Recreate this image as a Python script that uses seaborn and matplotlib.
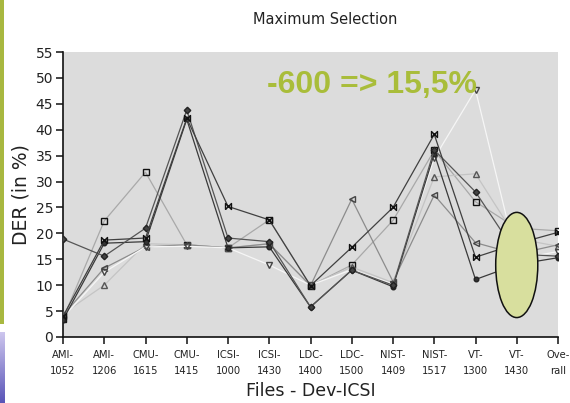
import numpy as np
import pandas as pd
import matplotlib
matplotlib.use("Agg")
import matplotlib.pyplot as plt
from matplotlib.patches import Ellipse, Rectangle
import seaborn as sns

# Audio files on the x axis
files = ["AMI-\n1052", "AMI-\n1206", "CMU-\n1615", "CMU-\n1415", "ICSI-\n1000",
         "ICSI-\n1430", "LDC-\n1400", "LDC-\n1500", "NIST-\n1409", "NIST-\n1517",
         "VT-\n1300", "VT-\n1430", "Ove-\nrall"]

# DER (%) per system run
der_square   = [3.5, 22.4, 31.8, 17.8, 17.2, 22.6, 9.9, 13.9, 22.5, 36.0, 26.1, 21.0, 20.5]
der_bowtie   = [4.0, 18.7, 19.1, 42.2, 25.2, 22.6, 9.9, 17.3, 25.0, 39.1, 15.4, 18.0, 20.2]
der_diamond  = [18.9, 15.6, 21.0, 43.8, 19.1, 18.4, 5.8, 12.9, 10.0, 36.1, 28.0, 16.0, 15.6]
der_circle   = [3.3, 18.1, 18.4, 42.0, 17.2, 17.4, 5.8, 12.9, 9.7, 35.4, 11.1, 14.0, 15.3]
der_left     = [4.2, 13.3, 17.4, 17.8, 17.2, 18.0, 9.9, 26.6, 10.7, 27.4, 18.2, 16.0, 17.8]
der_up       = [4.5, 10.0, 18.0, 17.8, 17.2, 18.0, 10.0, 13.5, 10.5, 30.9, 31.5, 19.0, 17.5]
der_down     = [3.8, 12.5, 17.4, 17.5, 17.2, 13.9, 10.0, 13.0, 10.2, 34.5, 47.7, 15.0, 16.5]

yticks = list(range(0, 60, 5))

bowtie = [(-1, -1), (1, 1), (1, -1), (-1, 1), (-1, -1)]

series = [
    ("square",  der_square,  "#a9a9a9", "s",    "none",    "#111111", 4.3),
    ("up",      der_up,      "#c4c4c4", "^",    "none",    "#555555", 3.8),
    ("left",    der_left,    "#8c8c8c", "<",    "none",    "#444444", 3.8),
    ("down",    der_down,    "#f6f6f6", "v",    "none",    "#444444", 3.8),
    ("circle",  der_circle,  "#3a3a3a", "o",    "#333333", "#222222", 3.3),
    ("diamond", der_diamond, "#555555", "D",    "#444444", "#222222", 3.3),
    ("bowtie",  der_bowtie,  "#404040", bowtie, "none",    "#111111", 4.3),
]

sns.set_theme(style="white")
plt.rcParams["font.family"] = ["DejaVu Sans"]

fig = plt.figure(figsize=(5.70, 4.03), dpi=100)
ax = fig.add_axes([63 / 570, 66 / 403, 495 / 570, 285 / 403])
ax.set_facecolor("#dcdcdc")

x = np.arange(len(files))
for name, vals, lc, mk, mfc, mec, ms in series:
    df = pd.DataFrame({"file": x, "der": vals})
    sns.lineplot(data=df, x="file", y="der", ax=ax, color=lc, lw=0.9,
                 marker=mk, markersize=ms, markerfacecolor=mfc,
                 markeredgecolor=mec, markeredgewidth=1.0, zorder=3)

# highlight over the VT-1430 column
ax.add_patch(Ellipse((11, 13.9), width=1.02, height=20.3, facecolor="#d8df9e",
                     edgecolor="#111111", lw=1.1, zorder=5))

ax.text(0.625, 0.884, "-600 => 15,5%", transform=ax.transAxes, color="#a9bd3a",
        fontsize=23, fontweight="bold", family="Liberation Sans",
        ha="center", va="center", zorder=6)

ax.set_xlim(0, 12)
ax.set_ylim(0, 55)
ax.set_xticks(x)
ax.set_xticklabels(files, fontsize=7.2, linespacing=1.75, color="#222222")
ax.set_yticks(yticks)
ax.set_yticklabels([str(v) for v in yticks], fontsize=10, color="#222222")
ax.tick_params(axis="both", direction="out", length=5, width=1.1, color="#111111",
               bottom=True, left=True)
ax.tick_params(axis="x", pad=4)
ax.tick_params(axis="y", pad=2)
for s in ["top", "right"]:
    ax.spines[s].set_visible(False)
for s in ["left", "bottom"]:
    ax.spines[s].set_color("#111111")
    ax.spines[s].set_linewidth(1.2)

ax.set_xlabel("Files - Dev-ICSI", fontsize=12.5, color="#222222", labelpad=5)
ax.set_ylabel("DER (in %)", fontsize=13.5, color="#222222", labelpad=4)

fig.text(325 / 570, 1 - 19 / 403, "Maximum Selection", fontsize=10.5,
         color="#222222", ha="center", va="center")

# slide edge decorations
fig.patches.append(Rectangle((0, 1 - 324 / 403), 3.5 / 570, 324 / 403,
                             transform=fig.transFigure, facecolor="#a8b840",
                             edgecolor="none"))
gax = fig.add_axes([0, 0, 5 / 570, 71 / 403])
grad = np.linspace(0, 1, 64).reshape(-1, 1)
gax.imshow(grad, aspect="auto", cmap=matplotlib.colors.LinearSegmentedColormap.from_list(
    "edge", ["#cdc6ee", "#5a55b8"]), origin="upper")
gax.axis("off")

fig.savefig("out.png", dpi=100)
